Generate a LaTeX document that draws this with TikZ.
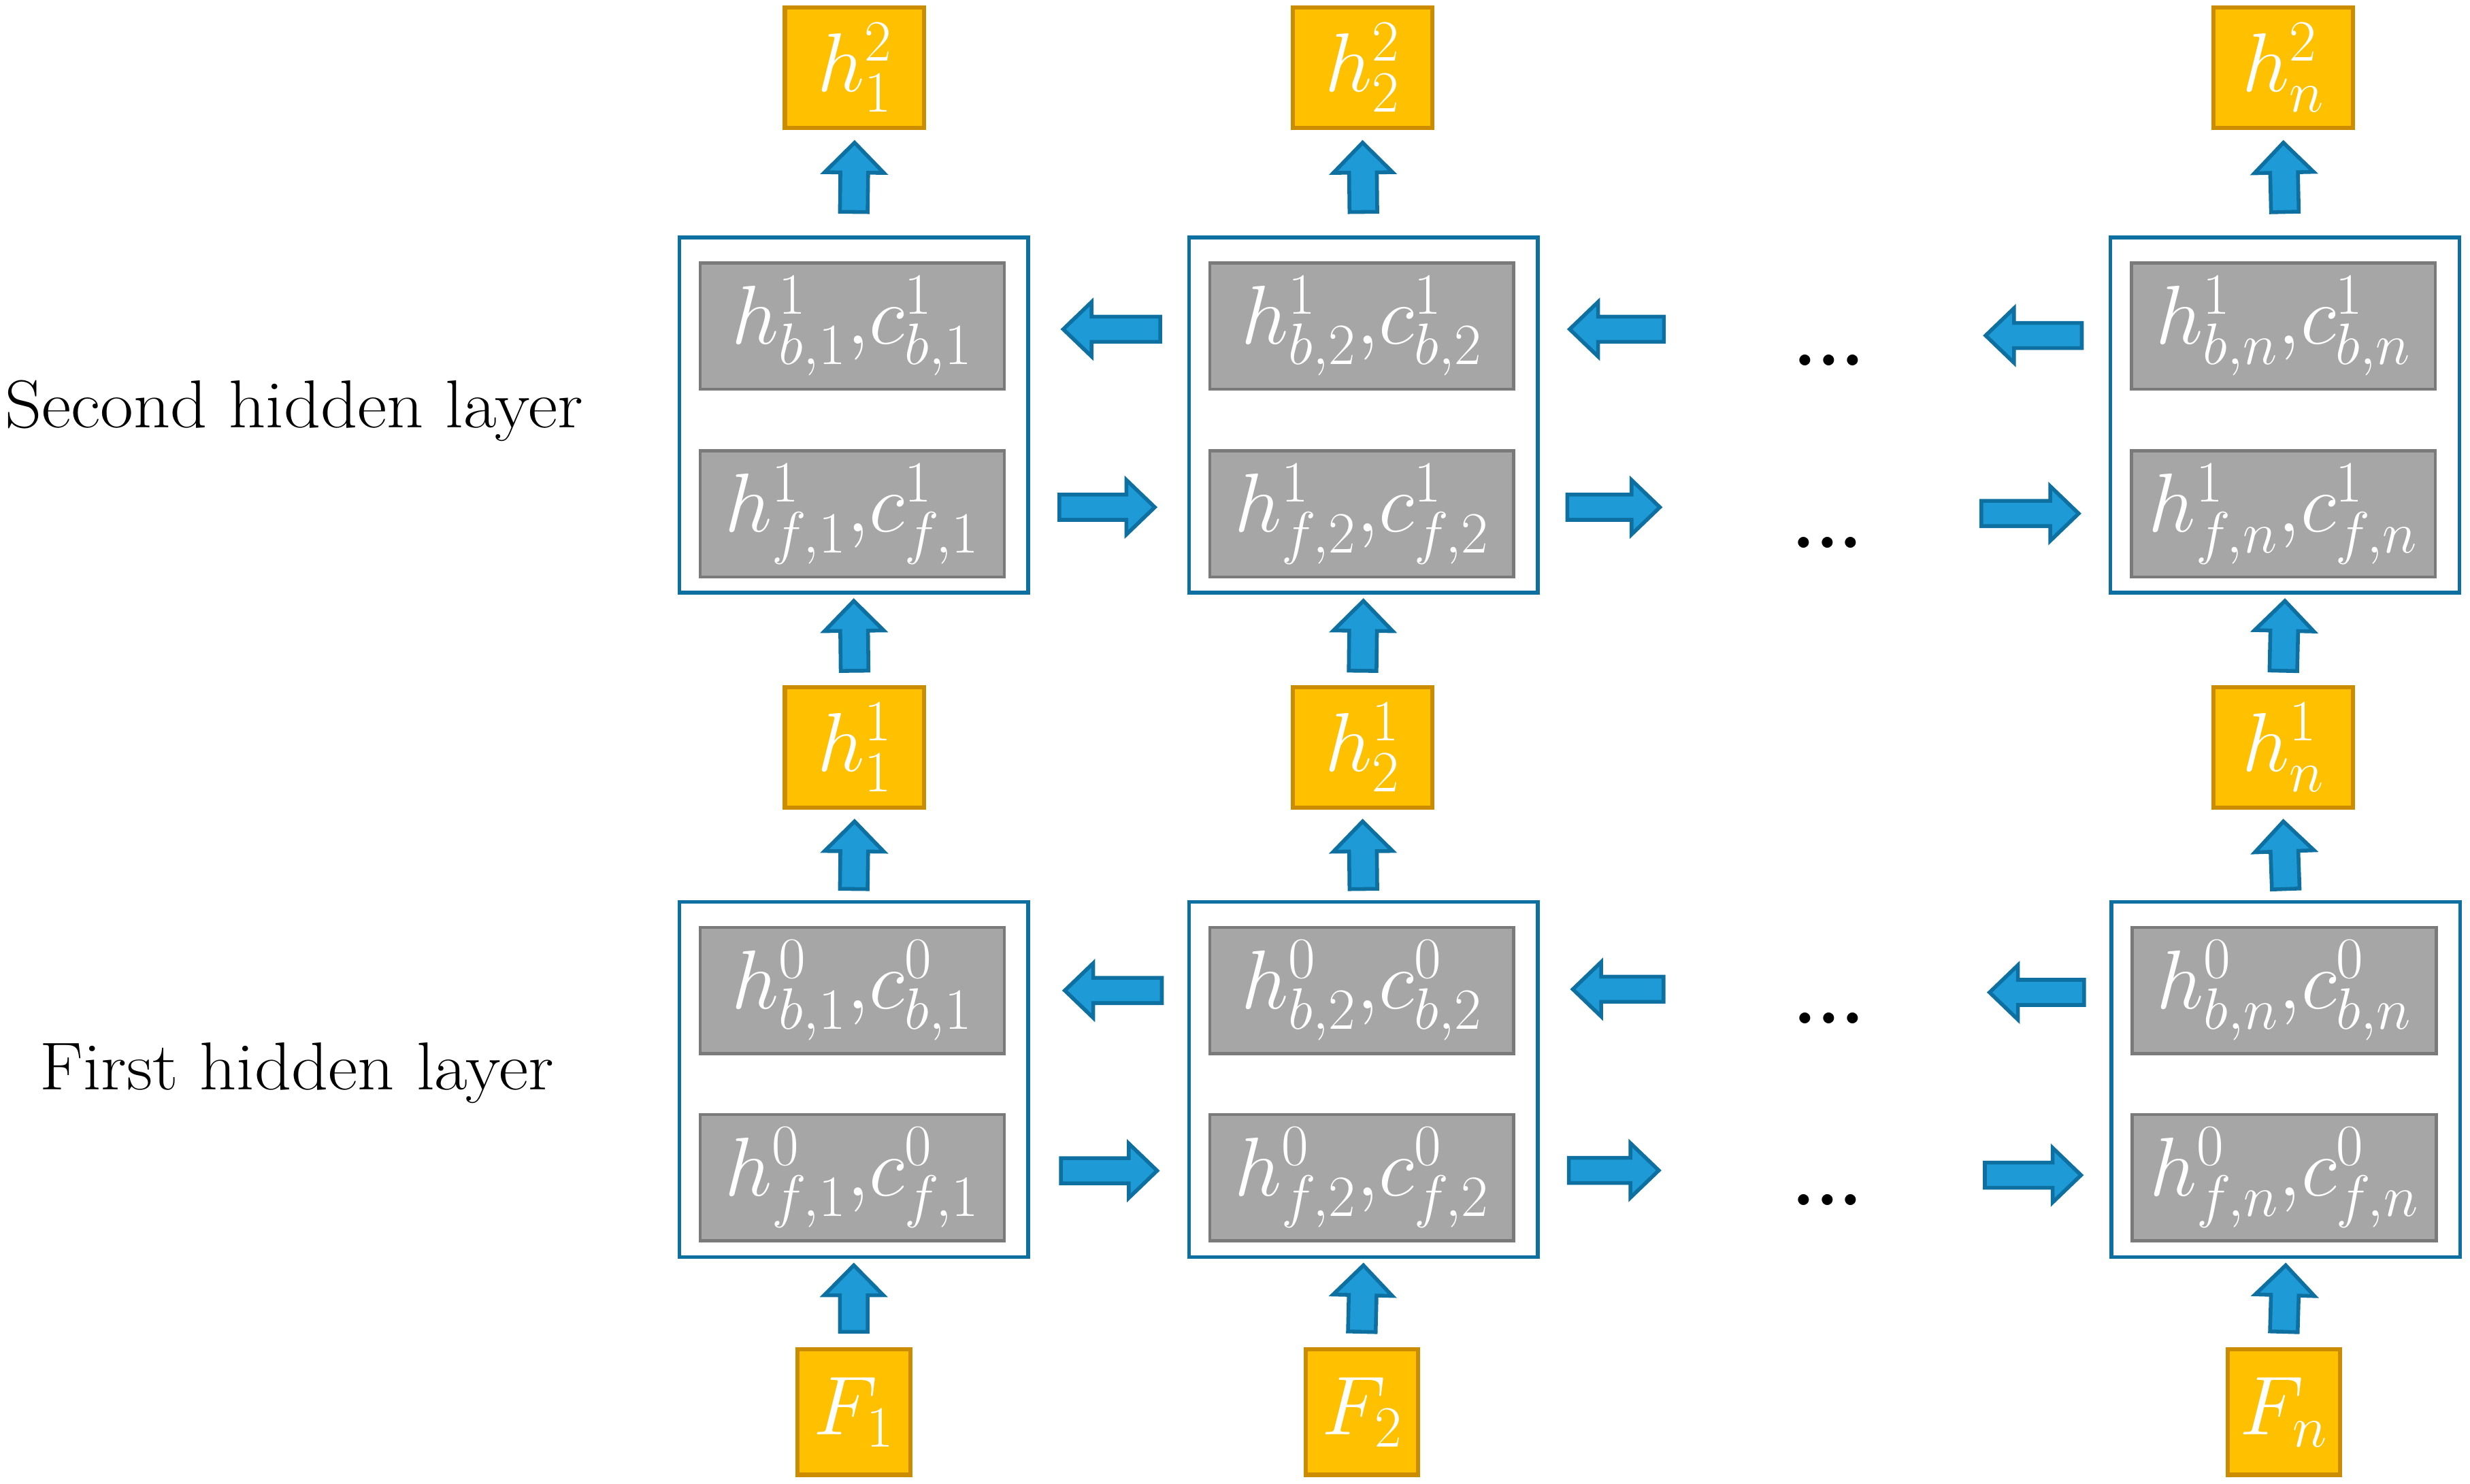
\RequirePackage{fix-cm}
\documentclass[tikz,border=0pt]{standalone}
\usetikzlibrary{calc}
\definecolor{ybox}{HTML}{FFC000}
\definecolor{yedge}{HTML}{CC8C00}
\definecolor{afill}{HTML}{1E9BD7}
\definecolor{aedge}{HTML}{0D70A0}
\definecolor{gfill}{HTML}{A6A6A6}
\definecolor{gedge}{HTML}{7A7A7A}
\newcommand\myMathFont{\fontsize{53}{63}\selectfont}
\newcommand\myLabelFont{\fontsize{43}{52}\selectfont}
\newcommand\myDotsFont{\fontsize{48}{58}\selectfont\bfseries}
\newcommand\wideText[1]{\scalebox{1.065}[1]{#1}}
\tikzset{
  outerbox/.style={draw=aedge, line width=2.4pt, fill=white, minimum width=221.5pt, minimum height=225.5pt, inner sep=0pt},
  greybox/.style={draw=gedge, fill=gfill, line width=2pt, minimum width=193pt, minimum height=80pt, inner sep=0pt, text=white, font=\myMathFont},
  hbox/.style={draw=yedge, fill=ybox, line width=2.6pt, minimum width=88.5pt, minimum height=76.5pt, inner sep=0pt, text=white, font=\myMathFont},
  featbox/.style={hbox, minimum width=71.5pt, minimum height=79.5pt},
  blockarr/.style={draw=aedge, fill=afill, line width=2.4pt, line join=miter},
  layerlabel/.style={anchor=base west, inner sep=0pt, font=\myLabelFont},
  dotstyle/.style={anchor=base, inner sep=0pt, font=\myDotsFont},
}
% #1 start, #2 end, #3 head half width, #4 shaft half width, #5 head length
\newcommand\myArrow[5]{%
  \coordinate (bS) at #1;
  \coordinate (bT) at #2;
  \coordinate (bH) at ($(bT)!#5!(bS)$);
  \draw[blockarr] ($(bS)!#4!90:(bT)$) -- ($(bH)!#4!90:(bT)$) -- ($(bH)!#3!90:(bT)$) -- (bT)
     -- ($(bH)!#3!-90:(bT)$) -- ($(bH)!#4!-90:(bT)$) -- ($(bS)!#4!-90:(bT)$) -- cycle;
}
\newcommand\upArrow[2]{\myArrow{#1}{#2}{18.8pt}{8.8pt}{19pt}}
\newcommand\sideArrow[2]{\myArrow{#1}{#2}{17.3pt}{8pt}{18pt}}
\begin{document}
\begin{tikzpicture}[x=1pt,y=-1pt]
\useasboundingbox (0,0) rectangle (1568,942);

% top outputs
\node[hbox] (T1) at (542.5,43) {$h^2_1$};
\node[hbox] (T2) at (865,43) {$h^2_2$};
\node[hbox] (T3) at (1449.5,43) {$h^2_n$};

% second hidden layer
\node[outerbox] (O21) at (542,263.5) {};
\node[outerbox] (O22) at (865.5,263.5) {};
\node[outerbox] (O23) at (1450.5,263.5) {};
\node[greybox] (G21b) at (541,207) {$h^1_{b,1}{,}c^1_{b,1}$};
\node[greybox] (G22b) at (864.5,207) {$h^1_{b,2}{,}c^1_{b,2}$};
\node[greybox] (G23b) at (1449.5,207) {$h^1_{b,n}{,}c^1_{b,n}$};
\node[greybox] (G21f) at (541,326.3) {$h^1_{f,1}{,}c^1_{f,1}$};
\node[greybox] (G22f) at (864.5,326.3) {$h^1_{f,2}{,}c^1_{f,2}$};
\node[greybox] (G23f) at (1449.5,326.3) {$h^1_{f,n}{,}c^1_{f,n}$};

% middle outputs
\node[hbox] (M1) at (542.5,474.4) {$h^1_1$};
\node[hbox] (M2) at (865,474.4) {$h^1_2$};
\node[hbox] (M3) at (1449.5,474.4) {$h^1_n$};

% first hidden layer
\node[outerbox] (O11) at (542,685.3) {};
\node[outerbox] (O12) at (865.5,685.3) {};
\node[outerbox] (O13) at (1451,685.3) {};
\node[greybox] (G11b) at (541,628.8) {$h^0_{b,1}{,}c^0_{b,1}$};
\node[greybox] (G12b) at (864.5,628.8) {$h^0_{b,2}{,}c^0_{b,2}$};
\node[greybox] (G13b) at (1450,628.8) {$h^0_{b,n}{,}c^0_{b,n}$};
\node[greybox] (G11f) at (541,747.6) {$h^0_{f,1}{,}c^0_{f,1}$};
\node[greybox] (G12f) at (864.5,747.6) {$h^0_{f,2}{,}c^0_{f,2}$};
\node[greybox] (G13f) at (1450,747.6) {$h^0_{f,n}{,}c^0_{f,n}$};

% inputs
\node[featbox] (F1) at (542,896.5) {$F_1$};
\node[featbox] (F2) at (864.5,896.5) {$F_2$};
\node[featbox] (F3) at (1449.8,896.5) {$F_n$};

% labels
\node[layerlabel] (L2) at (3,271.4) {\wideText{Second hidden layer}};
\node[layerlabel] (L1) at (25,691.9) {\wideText{First hidden layer}};

% dots
\node[dotstyle] (D2b) at (1161,232) {...};
\node[dotstyle] (D2f) at (1160,348) {...};
\node[dotstyle] (D1b) at (1161,650) {...};
\node[dotstyle] (D1f) at (1160,765) {...};

% free ends
\coordinate (e2b) at (1056.3,209);
\coordinate (e3b) at (1260.5,213);
\coordinate (e2f) at (1053.7,322);
\coordinate (e3f) at (1257.8,326);
\coordinate (e1b2) at (1056,628);
\coordinate (e1b3) at (1263,630);
\coordinate (e1f2) at (1053,743);
\coordinate (e1f3) at (1260,746);

% vertical arrows
\upArrow{($(O21.north)+(0,-15)$)}{($(T1.south)+(0,8)$)}
\upArrow{($(O22.north)+(0,-15)$)}{($(T2.south)+(0,8)$)}
\upArrow{($(O23.north)+(0,-15)$)}{($(T3.south)+(0,8)$)}
\upArrow{($(M1.north)+(0,-9)$)}{($(O21.south)+(0,4)$)}
\upArrow{($(M2.north)+(0,-9)$)}{($(O22.south)+(0,4)$)}
\upArrow{($(M3.north)+(0,-9)$)}{($(O23.south)+(0,4)$)}
\upArrow{($(O11.north)+(0,-7)$)}{($(M1.south)+(0,7.5)$)}
\upArrow{($(O12.north)+(0,-7)$)}{($(M2.south)+(0,7.5)$)}
\upArrow{($(O13.north)+(0,-7)$)}{($(M3.south)+(0,7.5)$)}
\upArrow{($(F1.north)+(0,-10)$)}{($(O11.south)+(0,4)$)}
\upArrow{($(F2.north)+(0,-10)$)}{($(O12.south)+(0,4)$)}
\upArrow{($(F3.north)+(0,-10)$)}{($(O13.south)+(0,4)$)}

% second layer horizontal arrows
\sideArrow{($(O22.west |- G22b.center)+(-17,2)$)}{($(O21.east |- G21b.center)+(21,2)$)}
\sideArrow{(e2b)}{($(O22.east |- G22b.center)+(19,2)$)}
\sideArrow{($(O23.west |- G23b.center)+(-17,6)$)}{(e3b)}
\sideArrow{($(O21.east |- G21f.center)+(18.5,-4.3)$)}{($(O22.west |- G22f.center)+(-20.5,-4.3)$)}
\sideArrow{($(O22.east |- G22f.center)+(17.5,-4.3)$)}{(e2f)}
\sideArrow{(e3f)}{($(O23.west |- G23f.center)+(-19,-0.3)$)}

% first layer horizontal arrows
\sideArrow{($(O12.west |- G12b.center)+(-16,0)$)}{($(O11.east |- G11b.center)+(22,0)$)}
\sideArrow{(e1b2)}{($(O12.east |- G12b.center)+(21,-0.8)$)}
\sideArrow{($(O13.west |- G13b.center)+(-16,1.2)$)}{(e1b3)}
\sideArrow{($(O11.east |- G11f.center)+(19.5,-4.4)$)}{($(O12.west |- G12f.center)+(-19,-4.4)$)}
\sideArrow{($(O12.east |- G12f.center)+(18.5,-4.6)$)}{(e1f2)}
\sideArrow{(e1f3)}{($(O13.west |- G13f.center)+(-18,-1.6)$)}
\end{tikzpicture}
\end{document}
